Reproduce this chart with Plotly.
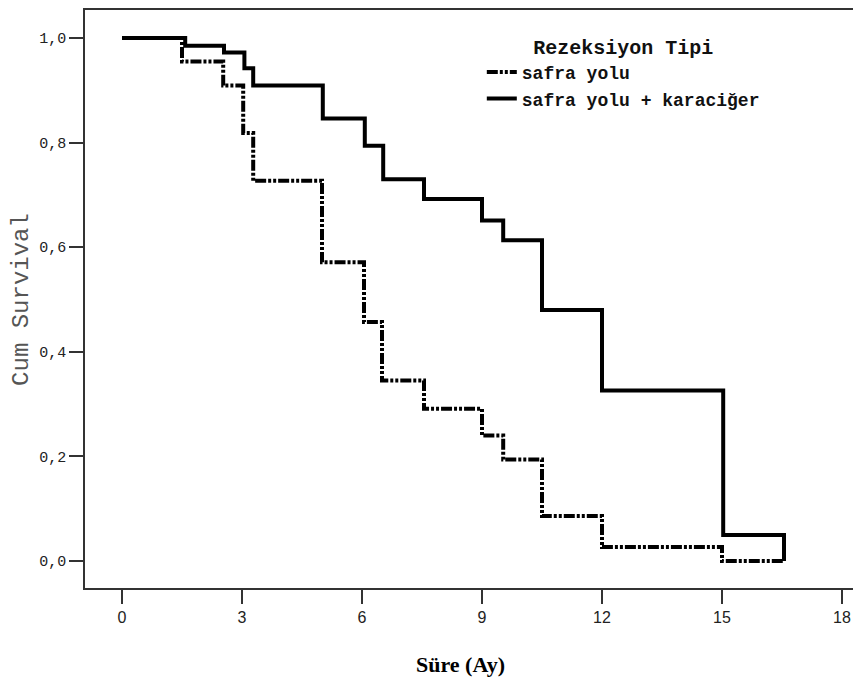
import plotly.graph_objects as go

# Kaplan-Meier step data
time_safra = [0, 1.5, 2.53, 3.03, 3.28, 5.0, 6.05, 6.5, 7.55, 9.0, 9.53, 10.5, 12.0, 15.0, 16.55]
surv_safra = [1.0, 0.955, 0.909, 0.818, 0.727, 0.571, 0.457, 0.345, 0.291, 0.240, 0.194, 0.086, 0.027, 0.0, 0.0]

time_karaciger = [0, 1.58, 2.55, 3.06, 3.28, 5.02, 6.07, 6.53, 7.55, 9.0, 9.53, 10.5, 12.0, 15.03, 16.55, 16.55]
surv_karaciger = [1.0, 0.985, 0.972, 0.942, 0.909, 0.846, 0.794, 0.730, 0.692, 0.651, 0.613, 0.480, 0.326, 0.050, 0.050, 0.0]

x_ticks = [0, 3, 6, 9, 12, 15, 18]
y_ticks = [0.0, 0.2, 0.4, 0.6, 0.8, 1.0]
y_tick_labels = ["0,0", "0,2", "0,4", "0,6", "0,8", "1,0"]

series_names = ["safra yolu", "safra yolu + karaciğer"]
legend_title = "Rezeksiyon Tipi"
x_title = "Süre (Ay)"
y_title = "Cum Survival"

mono = "Liberation Mono, Courier New, monospace"
serif = "Liberation Serif, Times New Roman, serif"

fig = go.Figure()
fig.add_trace(go.Scatter(
    x=time_safra, y=surv_safra, mode="lines", name=series_names[0],
    line=dict(shape="hv", color="black", width=4, dash="11px,2px,3px,2px,3px,2px"),
))
fig.add_trace(go.Scatter(
    x=time_karaciger, y=surv_karaciger, mode="lines", name=series_names[1],
    line=dict(shape="hv", color="black", width=4),
))

axis_common = dict(
    showline=True, mirror=True, linecolor="#333333", linewidth=1.5,
    showgrid=False, zeroline=False, ticks="outside", ticklen=14,
    tickcolor="#333333", tickwidth=1.5,
)

fig.update_layout(
    width=853, height=675,
    margin=dict(l=77, r=4, t=0, b=95),
    paper_bgcolor="white", plot_bgcolor="white",
    showlegend=True,
    legend=dict(
        x=0.514, y=0.969, xanchor="left", yanchor="top",
        bgcolor="rgba(0,0,0,0)",
        font=dict(family=mono, size=18, color="#111111", weight="bold"),
        title=dict(text=legend_title, side="top center",
                   font=dict(family=mono, size=20, color="#111111", weight="bold")),
        tracegroupgap=0, itemwidth=30,
    ),
    xaxis=dict(
        range=[-0.925, 18.375], tickvals=x_ticks,
        tickfont=dict(family="Liberation Sans Narrow, Arial Narrow, Liberation Sans, sans-serif", size=16, color="#222222"),
        **axis_common,
    ),
    yaxis=dict(
        range=[-0.0514, 1.0533], tickvals=y_ticks, ticktext=y_tick_labels,
        tickfont=dict(family=mono, size=15, color="#222222"),
        **axis_common,
    ),
    annotations=[
        dict(text="<b>" + x_title + "</b>", xref="paper", yref="paper",
             x=0.487, y=-0.133, xanchor="center", yanchor="middle", showarrow=False,
             font=dict(family=serif, size=22, color="black")),
        dict(text=y_title, xref="paper", yref="paper", textangle=-90,
             x=-0.083, y=0.5, xanchor="center", yanchor="middle", showarrow=False,
             font=dict(family=mono, size=24, color="#555555")),
    ],
)

fig.write_html("out.html")
